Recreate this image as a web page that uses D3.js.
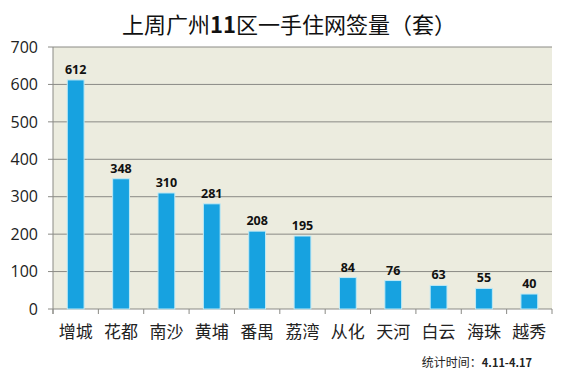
<!DOCTYPE html>
<html><head><meta charset="utf-8">
<script src="https://cdn.jsdelivr.net/npm/d3@7"></script>
<style>body{margin:0;background:#fff;}svg{display:block;}</style>
</head><body>
<script>
const categories = ["增城","花都","南沙","黄埔","番禺","荔湾","从化","天河","白云","海珠","越秀"];
const values = [612,348,310,281,208,195,84,76,63,55,40];
const yTicks = [0,100,200,300,400,500,600,700];
const titleParts = ["上周广州","11","区一手住网签量（套）"];
const footParts = ["统计时间：","4.11-4.17"];

const W = 583, H = 372;
const m = {left:53, right:31, top:47, bottom:63};
const svg = d3.select("body").append("svg").attr("width",W).attr("height",H);
const x = d3.scaleBand().domain(categories).range([m.left, W-m.right]).padding(0);
const y = d3.scaleLinear().domain([0,700]).range([H-m.bottom, m.top]);
const bw = x.bandwidth()*0.37;

svg.append("rect").attr("x",m.left).attr("y",m.top).attr("width",W-m.right-m.left).attr("height",H-m.bottom-m.top).attr("fill","#ececdf");

// grid
svg.append("g").selectAll("line").data(yTicks).join("line")
  .attr("x1",m.left-5).attr("x2",W-m.right).attr("y1",d=>y(d)).attr("y2",d=>y(d))
  .attr("stroke","#8a8a85").attr("stroke-width",1);
// y axis line
svg.append("line").attr("x1",m.left).attr("x2",m.left).attr("y1",m.top).attr("y2",y(0)+5).attr("stroke","#8a8a85");
// y labels
svg.append("g").selectAll("text").data(yTicks).join("text")
  .attr("x",38).attr("y",d=>y(d)).attr("dy","0.36em").attr("text-anchor","end")
  .attr("font-family","'Open Sans', 'Noto Sans', sans-serif").attr("font-size",16).attr("fill","#222").text(d=>d);
// x ticks between categories
const bounds = categories.map(c => x(c)).concat([W-m.right]);
svg.append("g").selectAll("line").data(bounds).join("line")
  .attr("x1",d=>d).attr("x2",d=>d).attr("y1",y(0)).attr("y2",y(0)+5).attr("stroke","#8a8a85");

// bars
svg.append("g").selectAll("rect").data(values).join("rect")
  .attr("x",(d,i)=>x(categories[i])+x.bandwidth()/2-bw/2).attr("width",bw)
  .attr("y",d=>y(d)).attr("height",d=>y(0)-y(d))
  .attr("fill","#17a2e0").attr("stroke","#bfe9f5").attr("stroke-width",1);
// value labels
svg.append("g").selectAll("text").data(values).join("text")
  .attr("x",(d,i)=>x(categories[i])+x.bandwidth()/2).attr("y",d=>y(d)-6)
  .attr("text-anchor","middle").attr("font-family","'Open Sans', sans-serif").attr("font-weight","bold")
  .attr("font-size",12.5).attr("fill","#111").text(d=>d);
// x labels
svg.append("g").selectAll("text").data(categories).join("text")
  .attr("x",d=>x(d)+x.bandwidth()/2).attr("y",H-m.bottom+29)
  .attr("text-anchor","middle").attr("font-family","'Noto Sans CJK SC', sans-serif")
  .attr("font-size",17).attr("fill","#222").text(d=>d);
// title
const t = svg.append("text").attr("x",289).attr("y",33).attr("text-anchor","middle")
  .attr("font-family","'Noto Sans CJK SC', sans-serif").attr("font-size",22).attr("fill","#111");
titleParts.forEach((p,i)=>t.append("tspan").attr("font-weight", i===1?"bold":"normal").text(p));
// footnote
const f = svg.append("text").attr("x",532).attr("y",367).attr("text-anchor","end")
  .attr("font-family","'Noto Sans CJK SC', sans-serif").attr("font-size",12).attr("fill","#222");
footParts.forEach((p,i)=>f.append("tspan").attr("font-weight", i===1?"bold":"normal").attr("font-size", i===1?11:12).text(p));
</script>
</body></html>
